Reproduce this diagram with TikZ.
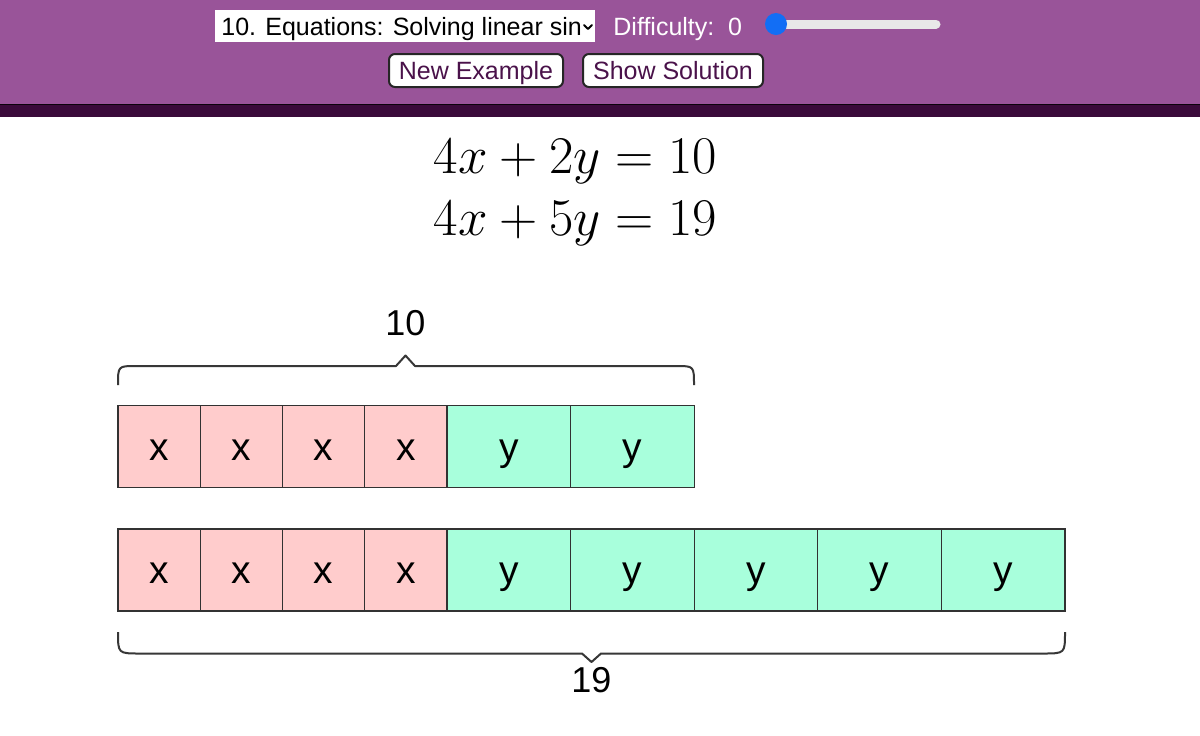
\RequirePackage{fix-cm}
\documentclass[tikz,border=0pt]{standalone}
\usepackage[no-math]{fontspec}
\setmainfont{Liberation Sans}
\usetikzlibrary{calc}
\definecolor{hdr}{RGB}{153,84,153}
\definecolor{hdrdark}{RGB}{58,10,58}
\definecolor{btntext}{RGB}{74,18,74}
\definecolor{pinkc}{RGB}{255,204,204}
\definecolor{greenc}{RGB}{168,255,220}
\definecolor{cellline}{RGB}{50,50,50}
\definecolor{track}{RGB}{232,232,232}
\definecolor{knob}{RGB}{18,110,245}
\definecolor{bracec}{RGB}{55,55,55}
\tikzset{
  hfont/.style={font=\fontsize{12.5}{15}\selectfont},
  btn/.style={draw=black!85, line width=1pt, fill=white, rounded corners=3pt},
  cellbase/.style={draw=cellline, line width=0.6pt, minimum height=41pt, inner sep=0pt, outer sep=0pt,
    text height=13.5pt, text depth=0pt, font=\fontsize{19.5}{20}\selectfont},
  xcell/.style={cellbase, fill=pinkc, minimum width=41.125pt},
  ycell/.style={cellbase, fill=greenc, minimum width=61.8pt},
  bracepath/.style={draw=bracec, line width=1pt, line join=round},
  blabel/.style={font=\fontsize{18}{20}\selectfont, anchor=base, inner sep=0pt},
  eqn/.style={anchor=base, inner sep=0pt, font=\fontsize{26.5}{30}\selectfont},
}
\begin{document}
\begin{tikzpicture}[x=0.5pt,y=-0.5pt]
\useasboundingbox (0,0) rectangle (1200,735);
\fill[white] (0,0) rectangle (1200,735);
% header
\fill[hdr] (0,0) rectangle (1200,104);
\fill[hdrdark] (0,104) rectangle (1200,117);
\draw[black!80!hdrdark, line width=0.5pt] (0,104.5) -- (1200,104.5);
% select box
\node[fill=white, minimum width=190pt, minimum height=16pt, inner sep=0pt, outer sep=0pt] (sel) at (405,26) {};
\node[hfont, anchor=base west, inner sep=0pt] (seltext) at (221,35) {10. Equations: Solving linear sin};
\coordinate (chev) at (588,27);
\draw[line width=0.9pt, line cap=round, line join=round] ($(chev)+(-4,-2)$) -- ($(chev)+(0,2)$) -- ($(chev)+(4,-2)$);
% difficulty
\node[hfont, text=white, anchor=base west, inner sep=0pt] (diff) at (613,35) {Difficulty:\ \ 0};
\coordinate (trackstart) at (776,24);
\coordinate (trackend) at (936,24);
\draw[track, line width=4.5pt, line cap=round] (trackstart) -- (trackend);
\fill[knob] (trackstart) circle[radius=5.5pt];
% buttons
\draw[btn] (389,54) rectangle (563,87);
\node[hfont, text=btntext, anchor=base, inner sep=0pt] (newex) at (476,79) {New Example};
\draw[btn] (583,54) rectangle (763,87);
\node[hfont, text=btntext, anchor=base, inner sep=0pt] (showsol) at (673,79) {Show Solution};
% equations
\node[eqn] (eq1) at (575.5,173) {$4x+2y=10$};
\node[eqn] (eq2) at (575.5,235) {$4x+5y=19$};
% top row
\foreach \i/\cx in {1/159.125,2/241.375,3/323.625,4/405.875}{
  \node[xcell] (tx\i) at (\cx,446.5) {x};
}
\foreach \i/\cx in {1/508.8,2/632.4}{
  \node[ycell] (ty\i) at (\cx,446.5) {y};
}
% bottom row
\foreach \i/\cx in {1/159.125,2/241.375,3/323.625,4/405.875}{
  \node[xcell] (bx\i) at (\cx,570) {x};
}
\foreach \i/\cx in {1/508.8,2/632.4,3/756,4/879.6,5/1003.2}{
  \node[ycell] (by\i) at (\cx,570) {y};
}
% top brace
\node[blabel] (l10) at (405.5,335) {10};
\draw[bracepath] (118,385) .. controls (118,366) .. (136,366) -- (396,366) -- (405.5,355.5) -- (415,366) -- (676,366) .. controls (694,366) .. (694,385);
% bottom brace
\node[blabel] (l19) at (591.5,692) {19};
\draw[bracepath] (118,632) .. controls (118,653.5) .. (140,653.5) -- (582,653.5) -- (591.5,662) -- (601,653.5) -- (1043,653.5) .. controls (1065,653.5) .. (1065,632);
\end{tikzpicture}
\end{document}
